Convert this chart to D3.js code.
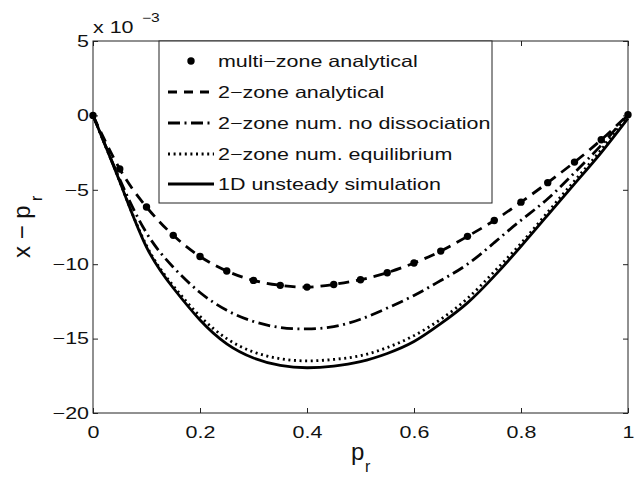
<!DOCTYPE html>
<html>
<head>
<meta charset="utf-8">
<script src="https://cdn.jsdelivr.net/npm/d3@7"></script>
<style>
  html, body { margin: 0; padding: 0; background: #fff; }
  svg { display: block; font-family: "Liberation Sans", Arial, Helvetica, sans-serif; }
</style>
</head>
<body>
<svg id="chart" width="640" height="477"></svg>
<script>
// ---------- data (values in units of 1e-3) ----------
const pr = [0, 0.05, 0.10, 0.15, 0.20, 0.25, 0.30, 0.35, 0.40, 0.45, 0.50,
            0.55, 0.60, 0.65, 0.70, 0.75, 0.80, 0.85, 0.90, 0.95, 1.00];
const multiZoneAnalytical = [0, -3.6, -6.16, -8.06, -9.48, -10.46, -11.09, -11.42, -11.54, -11.36, -11.04,
                             -10.57, -9.92, -9.12, -8.13, -7.06, -5.83, -4.52, -3.14, -1.64, 0.05];
const twoZoneAnalytical   = [0, -3.6, -6.16, -8.06, -9.48, -10.46, -11.09, -11.42, -11.54, -11.36, -11.04,
                             -10.57, -9.92, -9.12, -8.13, -7.06, -5.83, -4.52, -3.14, -1.64, 0.05];
const twoZoneNoDissociation = [0, -4.3, -7.9, -10.2, -11.9, -13.1, -13.85, -14.25, -14.35, -14.2, -13.7,
                               -12.95, -12.1, -11.1, -10.0, -8.55, -7.05, -5.6, -3.85, -2.0, 0.05];
const twoZoneEquilibrium  = [0, -4.45, -8.75, -11.45, -13.5, -15.0, -15.9, -16.35, -16.5, -16.4, -16.15,
                             -15.6, -14.8, -13.7, -12.3, -10.5, -8.6, -6.5, -4.4, -2.3, 0];
const unsteady1D          = [0, -4.45, -8.85, -11.6, -13.75, -15.35, -16.3, -16.8, -16.96, -16.85, -16.55,
                             -16.0, -15.2, -14.0, -12.6, -10.8, -8.8, -6.7, -4.6, -2.5, -0.2];

const xTicks = [0, 0.2, 0.4, 0.6, 0.8, 1];
const xTickLabels = ["0", "0.2", "0.4", "0.6", "0.8", "1"];
const yTicks = [-20, -15, -10, -5, 0, 5];
const yTickLabels = ["\u221220", "\u221215", "\u221210", "\u22125", "0", "5"];

const legendLabels = ["multi\u2212zone analytical", "2\u2212zone analytical",
  "2\u2212zone num. no dissociation", "2\u2212zone num. equilibrium", "1D unsteady simulation"];

// ---------- layout ----------
const L = 93, R = 628, T = 41, B = 413;
const svg = d3.select("#chart");
const x = d3.scaleLinear().domain([0, 1]).range([L, R]);
const y = d3.scaleLinear().domain([-20, 5]).range([B, T]);
const axisColor = "#222";
const fs = 16.5;
const K = 1.3; // horizontal stretch of the reference's text

function stretch(sel, k) {
  sel.each(function () {
    const w = this.getComputedTextLength();
    d3.select(this).attr("textLength", w * k).attr("lengthAdjust", "spacingAndGlyphs");
  });
}

// axes
const gB = svg.append("g").attr("transform", `translate(0,${B})`)
  .call(d3.axisBottom(x).tickValues(xTicks).tickSize(-5).tickPadding(13)
        .tickFormat((d, i) => xTickLabels[i]));
const gT = svg.append("g").attr("transform", `translate(0,${T})`)
  .call(d3.axisTop(x).tickValues(xTicks).tickSize(-5).tickFormat(""));
const gL = svg.append("g").attr("transform", `translate(${L},0)`)
  .call(d3.axisLeft(y).tickValues(yTicks).tickSize(-5).tickPadding(4)
        .tickFormat((d, i) => yTickLabels[i]));
const gR = svg.append("g").attr("transform", `translate(${R},0)`)
  .call(d3.axisRight(y).tickValues(yTicks).tickSize(-5).tickFormat(""));
[gB, gT, gL, gR].forEach(g => {
  g.select(".domain").remove();
  g.selectAll(".tick line").attr("stroke", axisColor).attr("stroke-width", 1);
  g.selectAll("text").attr("fill", "#111").style("font-size", fs + "px")
    .style("font-family", "'Liberation Sans', Arial, sans-serif");
});
stretch(gB.selectAll("text"), K);
stretch(gL.selectAll("text"), K);
svg.append("rect").attr("x", L).attr("y", T).attr("width", R - L).attr("height", B - T)
  .attr("fill", "none").attr("stroke", axisColor).attr("stroke-width", 1);

// lines
const mk = arr => arr.map((v, i) => [pr[i], v]);
const line = d3.line().x(d => x(d[0])).y(d => y(d[1])).curve(d3.curveNatural);
const styles = [
  { data: unsteady1D, dash: null },
  { data: twoZoneEquilibrium, dash: "2,3.6" },
  { data: twoZoneNoDissociation, dash: "12,4.5,2,4.5" },
  { data: twoZoneAnalytical, dash: "11,7" }
];
const plot = svg.append("g");
styles.forEach(s => {
  plot.append("path").attr("d", line(mk(s.data)))
    .attr("fill", "none").attr("stroke", "#000").attr("stroke-width", 2.8)
    .attr("stroke-dasharray", s.dash);
});
plot.selectAll("circle.mz").data(mk(multiZoneAnalytical)).join("circle")
  .attr("class", "mz").attr("cx", d => x(d[0])).attr("cy", d => y(d[1]))
  .attr("r", 3.7).attr("fill", "#000");

// legend
const lg = svg.append("g");
lg.append("rect").attr("x", 159).attr("y", T).attr("width", 333).attr("height", 162)
  .attr("fill", "#fff").attr("stroke", axisColor).attr("stroke-width", 1);
const rowY = [61, 92, 123, 154, 184];
const legDash = [null, "9,7", "12,4.5,2,4.5", "2,3.6", null];
legendLabels.forEach((lab, i) => {
  const yy = rowY[i];
  if (i === 0) {
    lg.append("circle").attr("cx", 191).attr("cy", yy).attr("r", 3.7).attr("fill", "#000");
  } else {
    lg.append("line").attr("x1", 168).attr("x2", 214).attr("y1", yy).attr("y2", yy)
      .attr("stroke", "#000").attr("stroke-width", 2.8).attr("stroke-dasharray", legDash[i]);
  }
  const t = lg.append("text").attr("x", 218).attr("y", yy + 6).text(lab)
    .style("font-size", fs + "px").attr("fill", "#111");
  stretch(t, K);
});

// exponent label
const ex1 = svg.append("text").attr("x", 93).attr("y", 33).style("font-size", fs + "px")
  .attr("fill", "#111").text("x 10");
stretch(ex1, K);
const ex2 = svg.append("text").attr("x", 142).attr("y", 22).style("font-size", "12px")
  .attr("fill", "#111").text("\u22123");
stretch(ex2, K);

// axis labels
svg.append("text").attr("x", 351).attr("y", 460).style("font-size", "24px")
  .attr("fill", "#111").text("p");
svg.append("text").attr("x", 365).attr("y", 472).style("font-size", "16px")
  .attr("fill", "#111").text("r");

const yl = svg.append("g").attr("transform", "translate(30,226) rotate(-90)");
yl.append("text").attr("x", -32).attr("y", 0).style("font-size", "24px")
  .attr("fill", "#111").text("x \u2212 p");
yl.append("text").attr("x", 25).attr("y", 12).style("font-size", "16px")
  .attr("fill", "#111").text("r");
</script>
</body>
</html>
